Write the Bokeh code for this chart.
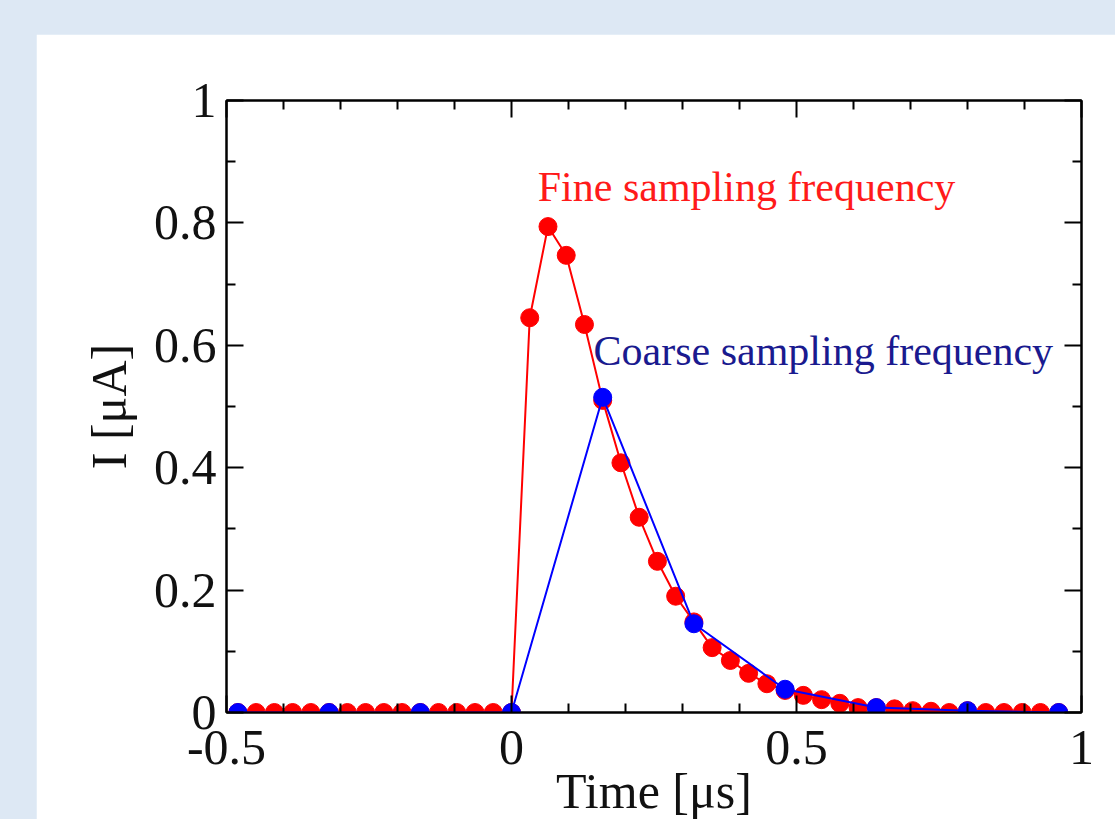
from bokeh.plotting import figure
from bokeh.layouts import column
from bokeh.models import (LinearAxis, FixedTicker, CustomJSTickFormatter, Label,
                          ColumnDataSource, GlobalInlineStyleSheet)
from bokeh.embed import file_html
from bokeh.resources import INLINE

# ---------------- data ----------------
fine_time = [-0.48, -0.448, -0.416, -0.384, -0.352, -0.32, -0.288, -0.256, -0.224, -0.192,
             -0.16, -0.128, -0.096, -0.064, -0.032, 0.0, 0.032, 0.064, 0.096, 0.128,
             0.16, 0.192, 0.224, 0.256, 0.288, 0.32, 0.352, 0.384, 0.416, 0.448,
             0.48, 0.512, 0.544, 0.576, 0.608, 0.64, 0.672, 0.704, 0.736, 0.768,
             0.8, 0.832, 0.864, 0.896, 0.928, 0.96]
fine_current = [0.0, 0.0, 0.0, 0.0, 0.0, 0.0, 0.0, 0.0, 0.0, 0.0,
                0.0, 0.0, 0.0, 0.0, 0.0, 0.0, 0.645, 0.794, 0.747, 0.634,
                0.51, 0.408, 0.319, 0.247, 0.19, 0.148, 0.106, 0.085, 0.064, 0.047,
                0.036, 0.028, 0.021, 0.015, 0.008, 0.008, 0.006, 0.003, 0.002, 0.0,
                0.003, 0.0, 0.0, 0.0, 0.0, 0.0]
coarse_time = [-0.48, -0.32, -0.16, 0.0, 0.16, 0.32, 0.48, 0.64, 0.8, 0.96]
coarse_current = [0.0, 0.0, 0.0, 0.0, 0.515, 0.145, 0.038, 0.008, 0.003, 0.0]

x_major_ticks = [-0.5, 0, 0.5, 1]
x_minor_ticks = [-0.4, -0.3, -0.2, -0.1, 0.1, 0.2, 0.3, 0.4, 0.6, 0.7, 0.8, 0.9]
y_major_ticks = [0, 0.2, 0.4, 0.6, 0.8, 1]
y_minor_ticks = [0.1, 0.3, 0.5, 0.7, 0.9]

x_label = "Time [\u03bcs]"
y_label = "I [\u03bcA]"
fine_label = "Fine sampling frequency"
coarse_label = "Coarse sampling frequency"

SERIF = "Liberation Serif"

p = figure(width=1079, height=806, x_range=(-0.5, 1), y_range=(0, 1),
           output_backend="svg", toolbar_location=None,
           min_border_left=190, min_border_right=34, min_border_top=66,
           min_border_bottom=128, x_axis_location=None, y_axis_location=None)
p.margin = (34, 0, 0, 36)
p.border_fill_color = "white"
p.background_fill_color = "white"
p.outline_line_color = "black"
p.outline_line_width = 2
p.xgrid.visible = False
p.ygrid.visible = False

fmt = CustomJSTickFormatter(code="return tick.toString();")

def make_axis(ticks, minor, labels=True, label_text=None, label_standoff=12, tick_standoff=8):
    ax = LinearAxis(ticker=FixedTicker(ticks=ticks, minor_ticks=minor), formatter=fmt)
    ax.axis_line_color = "black"
    ax.axis_line_width = 2
    ax.major_tick_in = 17
    ax.major_tick_out = 0
    ax.minor_tick_in = 9
    ax.minor_tick_out = 0
    ax.major_tick_line_color = "black"
    ax.major_tick_line_width = 2
    ax.minor_tick_line_color = "black"
    ax.minor_tick_line_width = 2
    if labels:
        ax.major_label_text_font = SERIF
        ax.major_label_text_font_size = "50px"
        ax.major_label_text_color = "#111111"
        ax.major_label_standoff = tick_standoff
    else:
        ax.major_label_text_font_size = "0px"
        ax.major_label_text_alpha = 0
        ax.major_label_standoff = 0
    if label_text:
        ax.axis_label = label_text
        ax.axis_label_text_font = SERIF
        ax.axis_label_text_font_size = "50px"
        ax.axis_label_text_font_style = "normal"
        ax.axis_label_text_color = "#111111"
        ax.axis_label_standoff = label_standoff
    return ax

xb = make_axis(x_major_ticks, x_minor_ticks, True, x_label, label_standoff=-4, tick_standoff=18)
xt = make_axis(x_major_ticks, x_minor_ticks, False)
yl = make_axis(y_major_ticks, y_minor_ticks, True, y_label, label_standoff=14, tick_standoff=10)
yr = make_axis(y_major_ticks, y_minor_ticks, False)
p.add_layout(xb, "below")
p.add_layout(xt, "above")
p.add_layout(yl, "left")
p.add_layout(yr, "right")

fine_src = ColumnDataSource(dict(t=fine_time, i=fine_current))
coarse_src = ColumnDataSource(dict(t=coarse_time, i=coarse_current))

p.line("t", "i", source=fine_src, line_color="#ff0000", line_width=2)
p.scatter("t", "i", source=fine_src, size=18, marker="circle",
          fill_color="#ff0000", line_color="#ff0000")
p.line("t", "i", source=coarse_src, line_color="#0000ff", line_width=2)
p.scatter("t", "i", source=coarse_src, size=18, marker="circle",
          fill_color="#0000ff", line_color="#0000ff")

p.add_layout(Label(x=0.046, y=0.859, text=fine_label, text_font=SERIF,
                   text_font_size="42px", text_color="#ff1a1a",
                   text_baseline="alphabetic", text_align="left"))
p.add_layout(Label(x=0.144, y=0.591, text=coarse_label, text_font=SERIF,
                   text_font_size="42px", text_color="#1a1a8f",
                   text_baseline="alphabetic", text_align="left"))

page = column(p, width=1115, height=840, spacing=0,
              styles={"background-color": "#dde8f4"},
              stylesheets=[GlobalInlineStyleSheet(css="html, body { overflow: hidden; margin: 0; }")])

open("out.html", "w").write(file_html(page, INLINE))
